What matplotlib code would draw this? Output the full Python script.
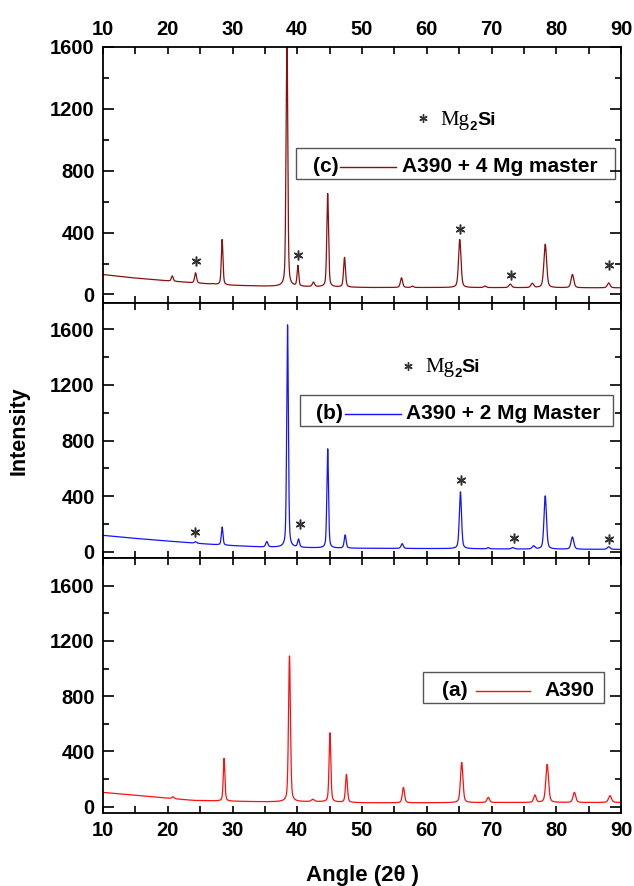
import numpy as np
import matplotlib
matplotlib.use("Agg")
import matplotlib.pyplot as plt
from matplotlib.patches import Rectangle
from matplotlib.ticker import MultipleLocator

plt.rcParams['font.family'] = ['Liberation Sans', 'DejaVu Sans']
plt.rcParams['font.weight'] = 'bold'

# ---- data ----
# (a) A390
bg_a_x = [10, 14, 18.6, 24, 29, 35, 43, 50, 60, 70, 80, 90]
bg_a_y = [104, 88, 68, 46, 41, 36, 37, 29, 29, 31, 31, 31]
pk_a_x = [20.8, 28.7, 38.8, 42.4, 45.05, 47.6, 56.4, 65.4, 69.5, 76.7, 78.6, 82.8, 88.3]
pk_a_h = [72, 350, 1091, 53, 536, 234, 140, 321, 68, 84, 306, 104, 80]
pk_a_w = [0.4, 0.3, 0.35, 0.5, 0.32, 0.35, 0.4, 0.45, 0.45, 0.45, 0.5, 0.5, 0.55]

# (b) A390 + 2 Mg Master
bg_b_x = [10, 14, 18.6, 23, 26.7, 30, 34.7, 45, 55, 65, 75, 90]
bg_b_y = [118, 100, 82, 66, 53, 44, 34, 26, 24, 22, 19, 17]
pk_b_x = [24.3, 28.4, 35.3, 38.5, 40.2, 44.7, 47.4, 56.2, 65.2, 69.5, 73.3, 76.5, 78.3, 82.5, 88.1]
pk_b_h = [72, 178, 72, 1632, 87, 740, 120, 58, 431, 29, 30, 41, 402, 106, 36]
pk_b_w = [0.4, 0.3, 0.4, 0.3, 0.35, 0.3, 0.35, 0.4, 0.4, 0.4, 0.5, 0.5, 0.45, 0.5, 0.5]
star_b_x = [24.2, 40.4, 65.3, 73.4, 88.1]
star_b_y = [145, 198, 518, 101, 89]

# (c) A390 + 4 Mg master
bg_c_x = [10, 14, 18.6, 24, 29.4, 34.7, 42, 51, 62, 75, 90]
bg_c_y = [129, 110, 93, 75, 60, 54, 50, 45, 45, 44, 43]
pk_c_x = [20.7, 24.3, 26.9, 28.4, 38.4, 40.1, 42.5, 44.7, 47.3, 56.1, 57.8, 65.1, 69.0, 72.9, 76.3, 78.3, 82.5, 88.1]
pk_c_h = [120, 140, 70, 355, 1750, 183, 78, 652, 239, 108, 54, 355, 54, 67, 71, 325, 129, 75]
pk_c_w = [0.35, 0.35, 0.4, 0.3, 0.3, 0.3, 0.4, 0.32, 0.35, 0.4, 0.4, 0.45, 0.45, 0.5, 0.5, 0.5, 0.5, 0.5]
star_c_x = [24.3, 40.1, 65.1, 73.0, 88.1]
star_c_y = [217, 254, 422, 129, 190]

panels = [
    dict(label="(c)", name="A390 + 4 Mg master", color="#8b0f0f",
         bgx=bg_c_x, bgy=bg_c_y, px=pk_c_x, ph=pk_c_h, pw=pk_c_w,
         sx=star_c_x, sy=star_c_y),
    dict(label="(b)", name="A390 + 2 Mg Master", color="#1414ff",
         bgx=bg_b_x, bgy=bg_b_y, px=pk_b_x, ph=pk_b_h, pw=pk_b_w,
         sx=star_b_x, sy=star_b_y),
    dict(label="(a)", name="A390", color="#ff1010",
         bgx=bg_a_x, bgy=bg_a_y, px=pk_a_x, ph=pk_a_h, pw=pk_a_w,
         sx=None, sy=None),
]


def pattern(p, x):
    bg = np.interp(x, p["bgx"], p["bgy"])
    y = bg.copy()
    for c, h, w in zip(p["px"], p["ph"], p["pw"]):
        amp = h - np.interp(c, p["bgx"], p["bgy"])
        g = np.exp(-4 * np.log(2) * ((x - c) / w) ** 2)
        lo = 1 / (1 + 4 * ((x - c) / w) ** 2)
        y += amp * (0.6 * g + 0.4 * lo)
    return y


x = np.linspace(10, 90, 4001)

fig = plt.figure(figsize=(6.34, 8.86), dpi=100)
W, H = 634, 886
left, right = 103 / W, 621 / W
edges = [47, 303, 558, 813]
ylims = [(-55, 1600), (-45, 1790), (-45, 1800)]

# legend box geometry in axes fraction: box x0, x1, y0, y1, label x, line x0, line x1, text x, text y
leg = [
    (0.373, 0.988, 0.483, 0.604, 0.430, 0.457, 0.565, 0.578, 0.532),
    (0.381, 0.985, 0.518, 0.641, 0.437, 0.467, 0.575, 0.585, 0.565),
    (0.618, 0.968, 0.431, 0.553, 0.679, 0.721, 0.825, 0.852, 0.480),
]
# star x, star y, "Mg" x, baseline y
mg_pos = [(0.617, 0.721, 0.652, 0.697), (0.588, 0.753, 0.622, 0.731)]

axes = []
for i, p in enumerate(panels):
    top, bot = edges[i], edges[i + 1]
    ax = fig.add_axes([left, 1 - bot / H, right - left, (bot - top) / H])
    axes.append(ax)
    ax.plot(x, pattern(p, x), color=p["color"], lw=0.9)
    ax.set_xlim(10, 90)
    ax.set_ylim(*ylims[i])
    ax.xaxis.set_major_locator(MultipleLocator(10))
    ax.xaxis.set_minor_locator(MultipleLocator(5))
    ax.yaxis.set_major_locator(MultipleLocator(400))
    ax.yaxis.set_minor_locator(MultipleLocator(200))
    ax.tick_params(which="both", direction="in", top=True, right=True, width=1.2)
    ax.tick_params(axis="x", which="both", length=5)
    ax.tick_params(axis="y", which="major", length=8)
    ax.tick_params(axis="y", which="minor", length=4)
    ax.tick_params(labelsize=14.5, pad=6)
    for s in ax.spines.values():
        s.set_linewidth(1.3)
    ax.set_yticks([0, 400, 800, 1200, 1600])
    if i == 0:
        ax.tick_params(axis="x", labeltop=True, labelbottom=False)
    elif i == 1:
        ax.tick_params(axis="x", labelbottom=False)
    for lab in ax.get_xticklabels() + ax.get_yticklabels():
        lab.set_fontweight("bold")

    # legend-like box
    bx0, bx1, by0, by1, lx, l0, l1, tx, ty = leg[i]
    ax.add_patch(Rectangle((bx0, by0), bx1 - bx0, by1 - by0, transform=ax.transAxes,
                           fill=False, edgecolor="#555555", lw=1.0))
    ax.text(lx, ty, p["label"], transform=ax.transAxes, ha="center", va="center",
            fontsize=15, fontweight="bold")
    ax.plot([l0, l1], [ty, ty], transform=ax.transAxes, color=p["color"], lw=1.0)
    ax.text(tx, ty, p["name"], transform=ax.transAxes, ha="left", va="center",
            fontsize=15, fontweight="bold")

    if p["sx"] is not None:
        ax.plot(p["sx"], p["sy"], ls="none", marker=(6, 2, 0), ms=7, mew=1.1, color="#333333")
        sx, sy, mx, my = mg_pos[i]
        ax.plot([sx], [sy], transform=ax.transAxes, ls="none", marker=(6, 2, 0), ms=6,
                mew=1.0, color="#333333")
        t1 = ax.text(mx, my, "Mg", transform=ax.transAxes, ha="left", va="baseline",
                     fontsize=15, fontfamily="Liberation Serif", fontweight="normal")
        t2 = ax.annotate("2", xy=(1, my), xycoords=(t1, ax.transAxes), xytext=(0, -4),
                         textcoords="offset points", ha="left", va="baseline",
                         fontsize=9.5, fontweight="bold")
        ax.annotate("Si", xy=(1, my), xycoords=(t2, ax.transAxes), ha="left",
                    va="baseline", fontsize=14, fontweight="bold")

axes[2].set_xlabel("Angle (2θ )", fontsize=16, fontweight="bold", labelpad=18)
fig.text(19 / W, 1 - 431 / H, "Intensity", rotation=90, ha="center", va="center",
         fontsize=15.5, fontweight="bold")

fig.savefig("out.png", dpi=100)
